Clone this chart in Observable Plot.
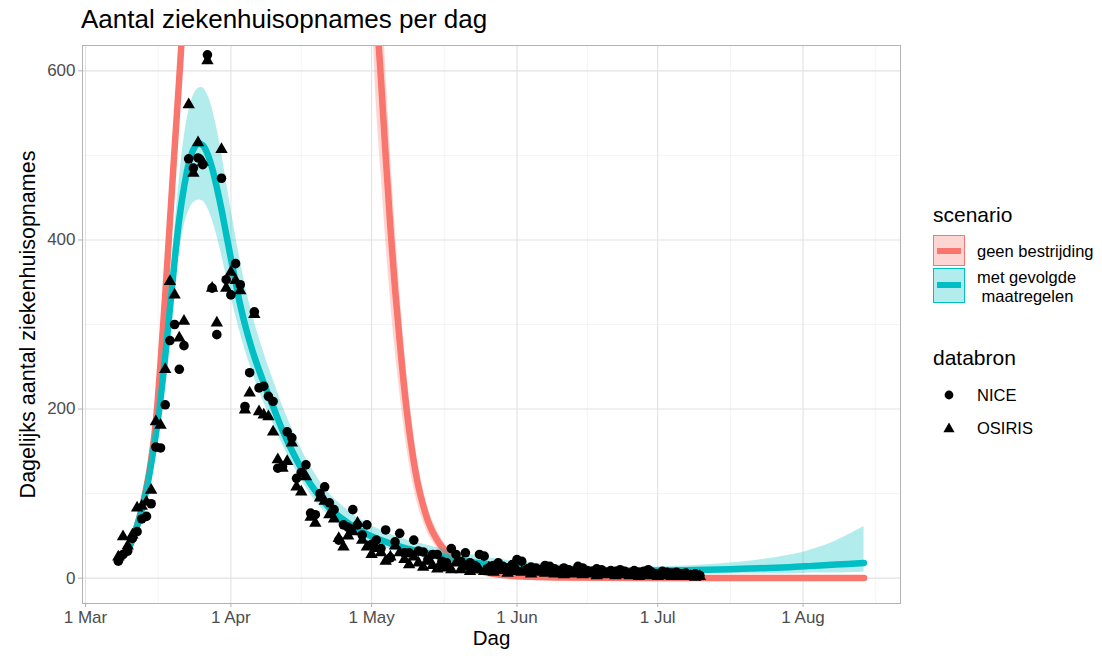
<!DOCTYPE html>
<html>
<head>
<meta charset="utf-8">
<script src="https://cdn.jsdelivr.net/npm/d3@7"></script>
<script src="https://cdn.jsdelivr.net/npm/@observablehq/plot@0.6"></script>
<style>
  body { margin: 0; background: #fff; font-family: "Liberation Sans", Arial, Helvetica, sans-serif; }
  #wrap { position: relative; width: 1102px; height: 659px; overflow: hidden; background: #fff; }
  #title { position: absolute; left: 81px; top: 5px; font-size: 26px; line-height: 28px; color: #000; white-space: nowrap; }
  #chart { position: absolute; left: 0; top: 40px; }
  .lg { position: absolute; white-space: pre; color: #000; }
  .lgt { font-size: 21px; line-height: 24px; }
  .lgl { font-size: 16.5px; line-height: 18.5px; }
  .key { position: absolute; box-sizing: border-box; }
  .bar { position: absolute; left: 3px; right: 3px; height: 6px; }
</style>
</head>
<body>
<div id="wrap">
  <div id="title"></div>
  <div id="chart"></div>
  <div id="legend"></div>
</div>
<script>
// ---------- data ----------
const title = "Aantal ziekenhuisopnames per dag";
const xTitle = "Dag";
const yTitle = "Dagelijks aantal ziekenhuisopnames";
const scenarioNames = ["geen bestrijding", "met gevolgde\n maatregelen"];
const sourceNames = ["NICE", "OSIRIS"];
const scenarioColors = ["#F8766D", "#00BFC4"];

const xTicks = ["2020-03-01", "2020-04-01", "2020-05-01", "2020-06-01", "2020-07-01", "2020-08-01"];
const xMinor = ["2020-03-16T12:00", "2020-04-16", "2020-05-16T12:00", "2020-06-16", "2020-07-16T12:00", "2020-08-16T12:00"];
const yTicks = [0, 200, 400, 600];
const yMinor = [100, 300, 500];

// model: met gevolgde maatregelen
const tealDates = ["2020-03-08","2020-03-10","2020-03-12","2020-03-14","2020-03-16","2020-03-17","2020-03-18","2020-03-19","2020-03-20","2020-03-21","2020-03-22","2020-03-23","2020-03-24","2020-03-25","2020-03-26","2020-03-27","2020-03-28","2020-03-29","2020-03-30","2020-03-31","2020-04-01","2020-04-02","2020-04-03","2020-04-04","2020-04-05","2020-04-06","2020-04-08","2020-04-10","2020-04-12","2020-04-15","2020-04-18","2020-04-22","2020-04-26","2020-04-30","2020-05-05","2020-05-10","2020-05-15","2020-05-20","2020-05-25","2020-05-30","2020-06-09","2020-06-19","2020-06-29","2020-07-09","2020-07-19","2020-07-29","2020-08-03","2020-08-08","2020-08-14"];
const tealMid = [20,33,62,105,170,212,262,318,375,425,462,490,507,514,512,502,485,462,436,407,378,350,323,300,280,262,231,203,175,140,111,83,65,52,41,33,27,21,17,14,11,9,9,9.5,11,13,14.5,16,18];
const tealLo  = [18,30,57,97,158,196,242,292,343,386,416,434,444,447,446,438,424,405,383,358,334,311,290,270,253,237,208,183,158,126,99,73,56,44,34,27,21,16,12,10,7,6,5,5,5,5,6,6,7];
const tealHi  = [22,36,67,114,183,230,285,347,412,472,520,552,571,579,580,572,556,532,503,470,437,405,375,348,324,303,267,235,204,165,132,100,80,65,52,43,36,30,25,21,16,13,13,15,19,27,34,44,61];

// model: geen bestrijding (goes far above the visible range)
const redDates = ["2020-03-08","2020-03-10","2020-03-12","2020-03-14","2020-03-15","2020-03-16","2020-03-17","2020-03-18","2020-03-19","2020-03-20","2020-03-21","2020-03-22","2020-03-23","2020-03-26","2020-03-31","2020-04-10","2020-04-20","2020-04-27","2020-04-30","2020-05-02","2020-05-03","2020-05-04","2020-05-05","2020-05-06","2020-05-07","2020-05-08","2020-05-09","2020-05-10","2020-05-11","2020-05-12","2020-05-13","2020-05-14","2020-05-16","2020-05-18","2020-05-20","2020-05-23","2020-05-26","2020-05-30","2020-06-04","2020-06-09","2020-06-29","2020-08-14"];
const redMid = [20,33,62,108,140,185,255,335,422,508,592,680,775,1300,3000,6000,3500,1500,1000,680,590,500,415,342,280,223,176,138,108,86,68,55,37,26,18,10,6,3,1.5,0.8,0.3,0.2];
const redLo  = [19,31,59,103,133,176,243,320,403,485,565,650,740,1220,2800,5600,3300,1350,850,560,480,400,330,270,220,174,137,107,84,67,53,43,29,20,14,8,4.6,2.3,1.1,0.6,0.2,0.1];
const redHi  = [21,35,65,113,147,194,267,350,441,531,619,710,810,1390,3200,6400,3700,1650,1160,820,710,605,505,418,342,272,216,170,133,106,84,68,46,32,22,12.5,7.5,3.8,1.9,1,0.4,0.3];

// observations, one value per day starting at obsStart
const obsStart = "2020-03-08";
const niceValues = [20,28,32,47,55,70,73,88,155,154,205,281,300,247,275,496,485,497,489,619,343,288,473,353,335,372,347,203,243,315,225,227,215,209,130,132,173,166,118,125,134,77,75,100,108,89,81,45,63,60,81,63,51,63,40,45,35,57,24,43,53,30,30,45,32,31,22,28,28,20,18,35,28,20,30,18,15,28,26,12,15,18,14,12,16,22,20,10,13,12,10,15,14,11,9,12,10,8,14,12,9,8,11,10,7,9,8,10,8,6,9,7,8,10,6,5,8,7,6,7,5,6,4,5,3];
const osirisValues = [25,49,38,51,83,85,90,104,185,181,247,351,335,284,304,560,479,515,492,612,343,302,507,343,362,352,340,199,219,312,197,193,191,173,140,130,138,160,108,102,120,72,65,95,91,75,70,47,37,50,55,65,45,37,28,35,30,20,25,38,30,22,16,25,18,13,20,15,11,15,12,10,18,10,13,8,12,10,8,12,7,9,10,6,8,10,7,9,5,7,8,6,9,5,6,4,7,5,6,4,5,6,3,5,4,6,3,4,5,3,4,2,4,3,5,2,3,4,2,3,2,3,2,1,2];

// ---------- build ----------
const parse = s => new Date(s.length > 10 ? s + ":00Z" : s + "T00:00:00Z");
const teal = tealDates.map((d, i) => ({date: parse(d), mid: tealMid[i], lo: tealLo[i], hi: tealHi[i]}));
const red = redDates.map((d, i) => ({date: parse(d), mid: redMid[i], lo: redLo[i], hi: redHi[i]}));
const start = parse(obsStart);
const nice = niceValues.map((v, i) => ({date: d3.utcDay.offset(start, i), v}));
const osiris = osirisValues.map((v, i) => ({date: d3.utcDay.offset(start, i), v}));

const font = '"Liberation Sans", Arial, Helvetica, sans-serif';
const xDomain = [new Date(Date.UTC(2020, 1, 29, 8, 40)), new Date(Date.UTC(2020, 7, 21, 18, 30))];

const chart = Plot.plot({
  width: 910,
  height: 619,
  marginLeft: 82,
  marginRight: 10,
  marginTop: 5,
  marginBottom: 56,
  x: {type: "utc", domain: xDomain},
  y: {domain: [-30, 630]},
  style: {fontFamily: font, fontSize: "17px", background: "#fff", color: "#000"},
  marks: [
    Plot.ruleX(xMinor.map(parse), {stroke: "#ececec", strokeWidth: 0.6}),
    Plot.ruleY(yMinor, {stroke: "#ececec", strokeWidth: 0.6}),
    Plot.ruleX(xTicks.map(parse), {stroke: "#e2e2e2", strokeWidth: 1.1}),
    Plot.ruleY(yTicks, {stroke: "#e2e2e2", strokeWidth: 1.1}),
    Plot.line(red, {x: "date", y: "mid", stroke: scenarioColors[0], strokeWidth: 6.5, curve: "catmull-rom", clip: true}),
    Plot.line(teal, {x: "date", y: "mid", stroke: scenarioColors[1], strokeWidth: 6.5, curve: "catmull-rom", clip: true}),
    Plot.areaY(red, {x: "date", y1: "lo", y2: "hi", fill: scenarioColors[0], fillOpacity: 0.3, curve: "catmull-rom", clip: true}),
    Plot.areaY(teal, {x: "date", y1: "lo", y2: "hi", fill: scenarioColors[1], fillOpacity: 0.3, curve: "catmull-rom", clip: true}),
    Plot.dot(nice, {x: "date", y: "v", r: 4.8, fill: "#000", symbol: "circle"}),
    Plot.dot(osiris, {x: "date", y: "v", r: 4.6, fill: "#000", symbol: "triangle"}),
    Plot.frame({stroke: "#b3b3b3", strokeWidth: 1}),
    Plot.axisX({ticks: xTicks.map(parse), tickFormat: d3.utcFormat("%-d %b"), tickSize: 4, tickPadding: 3, stroke: "#b3b3b3", fill: "#4d4d4d", fontSize: 17, label: null}),
    Plot.axisY({ticks: yTicks, tickSize: 4, tickPadding: 3, stroke: "#b3b3b3", fill: "#4d4d4d", fontSize: 17, label: null}),
    Plot.text([xTitle], {text: d => d, frameAnchor: "bottom", dy: 41, fontSize: 20.5, fill: "#000"}),
    Plot.text([yTitle], {text: d => d, frameAnchor: "left", textAnchor: "middle", rotate: -90, dx: -54, fontSize: 21.5, fill: "#000"})
  ]
});
document.getElementById("chart").appendChild(chart);
document.getElementById("title").textContent = title;

// ---------- legend ----------
const lg = document.getElementById("legend");
function add(html) { lg.insertAdjacentHTML("beforeend", html); }
add(`<div class="lg lgt" style="left:933px;top:203px">scenario</div>`);
const keyTops = [235, 268], keyH = [31, 35], barC = [251, 285], fills = ["rgba(248,118,109,0.3)", "rgba(0,191,196,0.3)"];
scenarioNames.forEach((name, i) => {
  add(`<div class="key" style="left:933px;top:${keyTops[i]}px;width:32px;height:${keyH[i]}px;background:${fills[i]};border:1.5px solid ${scenarioColors[i]}">
        <div class="bar" style="top:${barC[i] - keyTops[i] - 4.5}px;background:${scenarioColors[i]}"></div></div>`);
});
add(`<div class="lg lgl" style="left:977px;top:242px">${scenarioNames[0]}</div>`);
add(`<div class="lg lgl" style="left:977px;top:268px">${scenarioNames[1]}</div>`);
add(`<div class="lg lgt" style="left:933px;top:346px">databron</div>`);
add(`<svg style="position:absolute;left:940px;top:386px" width="18" height="18"><circle cx="9" cy="9" r="4.4" fill="#000"/></svg>`);
add(`<svg style="position:absolute;left:940px;top:419px" width="18" height="18"><path d="M9,3.6 L14.6,13.3 L3.4,13.3 Z" fill="#000"/></svg>`);
add(`<div class="lg lgl" style="left:977px;top:386px">${sourceNames[0]}</div>`);
add(`<div class="lg lgl" style="left:977px;top:419px">${sourceNames[1]}</div>`);
</script>
</body>
</html>
